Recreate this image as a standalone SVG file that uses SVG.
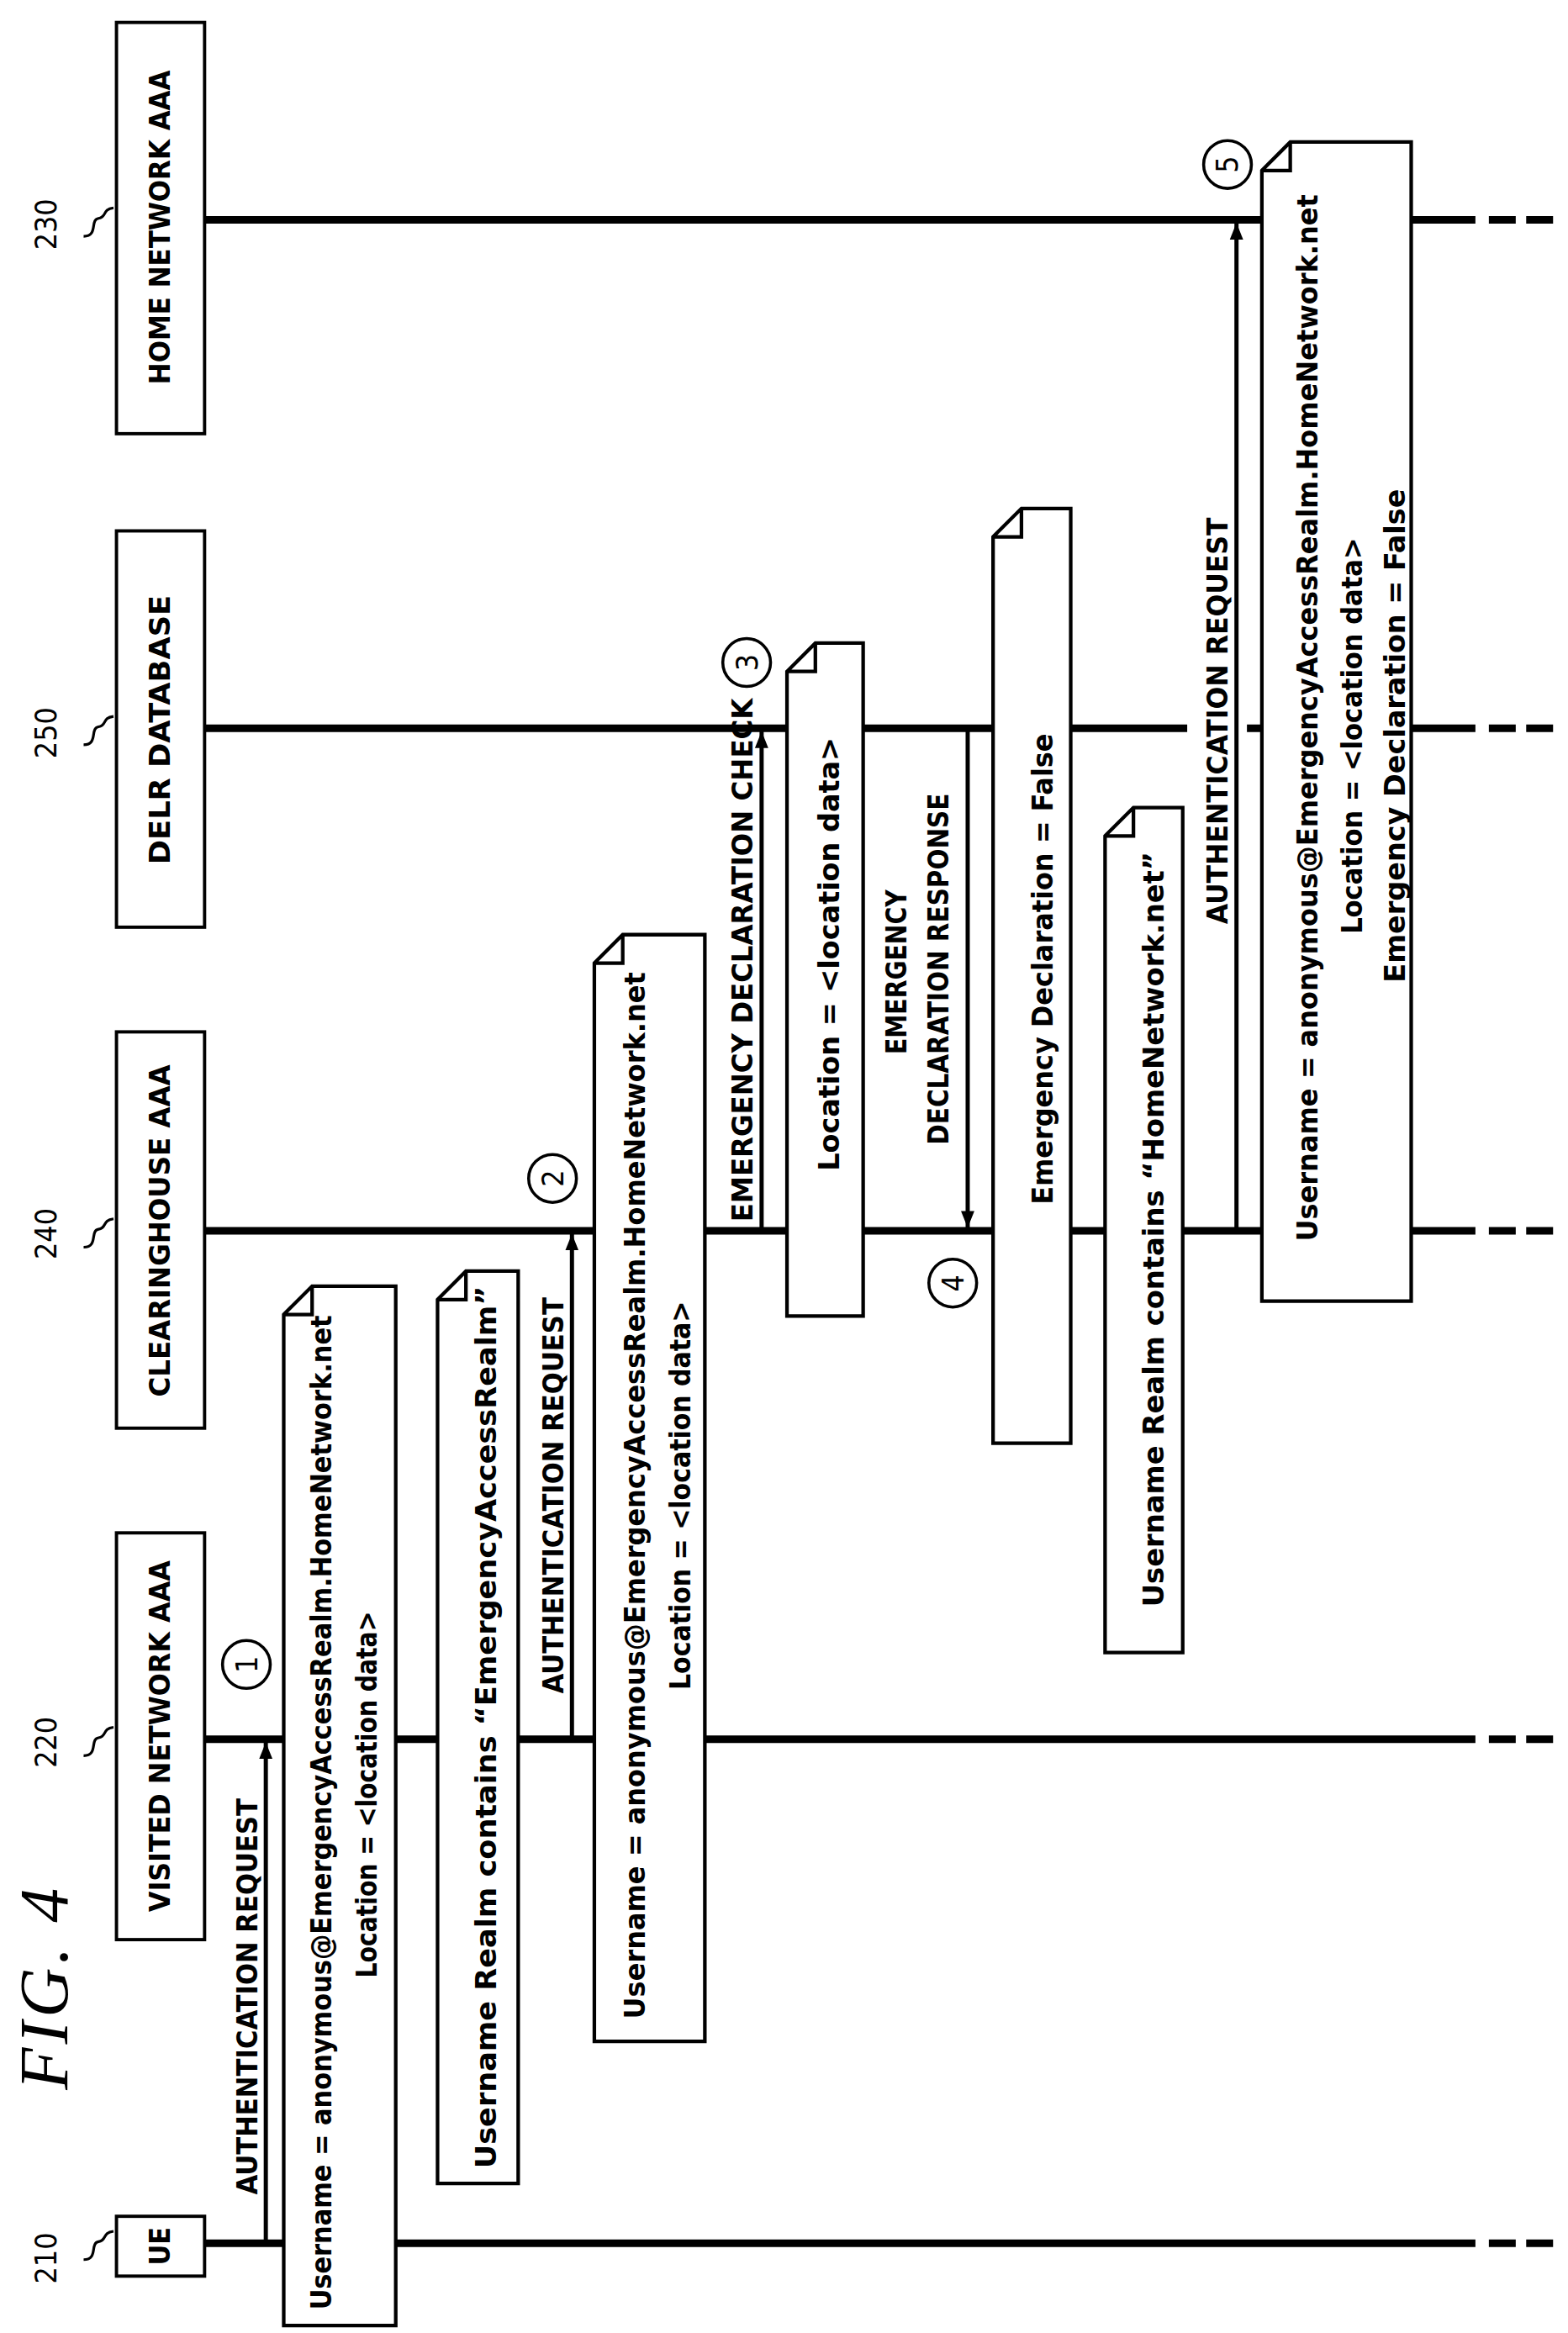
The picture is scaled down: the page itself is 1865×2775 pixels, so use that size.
<svg xmlns="http://www.w3.org/2000/svg" width="1865" height="2775" viewBox="0 0 1865 2775">
<defs>
<style>
text{font-family:"DejaVu Sans Condensed","DejaVu Sans","Liberation Sans",sans-serif;font-stretch:condensed;font-weight:bold;font-size:19px;fill:#000;text-anchor:middle}
.life{stroke:#000;stroke-width:5;fill:none}
.dash{stroke:#000;stroke-width:5;fill:none}
.box{fill:#fff;stroke:#000;stroke-width:2.2}
.note{fill:#fff;stroke:#000;stroke-width:2.4}
.arr{stroke:#000;stroke-width:2.8;fill:none}
.circ{fill:#fff;stroke:#000;stroke-width:2}
.sq{stroke:#000;stroke-width:1.8;fill:none}
.num{font-weight:normal;font-size:20px}
.fig{font-family:"Liberation Serif",serif;font-style:italic;font-weight:normal;font-size:46px}
</style>
<marker id="ah" viewBox="0 0 10 10" refX="10" refY="5" markerWidth="4" markerHeight="4" orient="auto" markerUnits="strokeWidth"><path d="M0,1 L10,5 L0,9 Z" fill="#000"/></marker>
</defs>
<rect width="1865" height="2775" fill="#fff"/>
<g transform="scale(1.7762,1.7788)">
<text class="fig" transform="translate(45,1330) rotate(-90)" textLength="135" lengthAdjust="spacing">FIG.  4</text>
<g id="connectors">
<path class="life" d="M137,147 H988 M137,487 H795 M835,487 H988 M137,823 H988 M137,1163 H988 M137,1500 H988"/>
<path class="dash" d="M997,147 H1015 M1022,147 H1040 M997,487 H1015 M1022,487 H1040 M997,823 H1015 M1022,823 H1040 M997,1163 H1015 M1022,1163 H1040 M997,1500 H1015 M1022,1500 H1040"/>
<path class="arr" d="M178,1498 V1165" marker-end="url(#ah)"/>
<path class="arr" d="M383,1161 V825" marker-end="url(#ah)"/>
<path class="arr" d="M510,821 V489" marker-end="url(#ah)"/>
<path class="arr" d="M648,489 V821" marker-end="url(#ah)"/>
<path class="arr" d="M828,821 V149" marker-end="url(#ah)"/>
<text transform="translate(172,1335) rotate(-90)" textLength="265" lengthAdjust="spacingAndGlyphs">AUTHENTICATION  REQUEST</text>
<text transform="translate(377,1000) rotate(-90)" textLength="265" lengthAdjust="spacingAndGlyphs">AUTHENTICATION  REQUEST</text>
<text transform="translate(504,642) rotate(-90)" textLength="350" lengthAdjust="spacingAndGlyphs">EMERGENCY  DECLARATION  CHECK</text>
<text transform="translate(607,650) rotate(-90)" textLength="110" lengthAdjust="spacingAndGlyphs">EMERGENCY</text>
<text transform="translate(635,648) rotate(-90)" textLength="235" lengthAdjust="spacingAndGlyphs">DECLARATION  RESPONSE</text>
<text transform="translate(822,482) rotate(-90)" textLength="272" lengthAdjust="spacingAndGlyphs">AUTHENTICATION  REQUEST</text>
</g>
<g id="n230"><rect class="box" x="78" y="15" width="59" height="275"/><text transform="translate(114,152) rotate(-90)" textLength="210" lengthAdjust="spacingAndGlyphs">HOME  NETWORK  AAA</text><text class="num" transform="translate(38,150) rotate(-90)">230</text><path class="sq" d="M56,158 C66,158 60,147 66,146 C72,145 68,140 76,139"/></g>
<g id="n250"><rect class="box" x="78" y="355" width="59" height="265"/><text transform="translate(114,488) rotate(-90)" textLength="180" lengthAdjust="spacingAndGlyphs">DELR  DATABASE</text><text class="num" transform="translate(38,490) rotate(-90)">250</text><path class="sq" d="M56,498 C66,498 60,487 66,486 C72,485 68,480 76,479"/></g>
<g id="n240"><rect class="box" x="78" y="690" width="59" height="265"/><text transform="translate(114,823) rotate(-90)" textLength="222" lengthAdjust="spacingAndGlyphs">CLEARINGHOUSE  AAA</text><text class="num" transform="translate(38,825) rotate(-90)">240</text><path class="sq" d="M56,834 C66,834 60,823 66,822 C72,821 68,816 76,815"/></g>
<g id="n220"><rect class="box" x="78" y="1025" width="59" height="272"/><text transform="translate(114,1161) rotate(-90)" textLength="235" lengthAdjust="spacingAndGlyphs">VISITED  NETWORK  AAA</text><text class="num" transform="translate(38,1165) rotate(-90)">220</text><path class="sq" d="M56,1174 C66,1174 60,1163 66,1162 C72,1161 68,1156 76,1155"/></g>
<g id="n210"><rect class="box" x="78" y="1482" width="59" height="40"/><text transform="translate(114,1502) rotate(-90)">UE</text><text class="num" transform="translate(38,1510) rotate(-90)">210</text><path class="sq" d="M56,1511 C66,1511 60,1500 66,1499 C72,1498 68,1493 76,1492"/></g>
<g id="step1"><circle class="circ" cx="165" cy="1113" r="16"/><text class="num" transform="translate(172,1113) rotate(-90)">1</text></g>
<g id="step2"><circle class="circ" cx="370" cy="788" r="16"/><text class="num" transform="translate(377,788) rotate(-90)">2</text></g>
<g id="step3"><circle class="circ" cx="500" cy="443" r="16"/><text class="num" transform="translate(507,443) rotate(-90)">3</text></g>
<g id="step4"><circle class="circ" cx="638" cy="858" r="16"/><text class="num" transform="translate(645,858) rotate(-90)">4</text></g>
<g id="step5"><circle class="circ" cx="822" cy="110" r="16"/><text class="num" transform="translate(829,110) rotate(-90)">5</text></g>
<g id="note1"><path class="note" d="M190,879 L209,860 H265 V1555 H190 Z M190,879 H209 V860"/>
<text transform="translate(222,1212) rotate(-90)" textLength="665" lengthAdjust="spacingAndGlyphs">Username = anonymous@EmergencyAccessRealm.HomeNetwork.net</text>
<text transform="translate(252,1200) rotate(-90)" textLength="245" lengthAdjust="spacingAndGlyphs">Location = &lt;location data&gt;</text></g>
<g id="note2"><path class="note" d="M293,869 L312,850 H347 V1460 H293 Z M293,869 H312 V850"/>
<text transform="translate(332,1155) rotate(-90)" textLength="590" lengthAdjust="spacingAndGlyphs">Username  Realm  contains  “EmergencyAccessRealm”</text></g>
<g id="note3"><path class="note" d="M398,644 L417,625 H472 V1365 H398 Z M398,644 H417 V625"/>
<text transform="translate(432,1000) rotate(-90)" textLength="700" lengthAdjust="spacingAndGlyphs">Username = anonymous@EmergencyAccessRealm.HomeNetwork.net</text>
<text transform="translate(462,1000) rotate(-90)" textLength="260" lengthAdjust="spacingAndGlyphs">Location = &lt;location data&gt;</text></g>
<g id="note4"><path class="note" d="M527,449 L546,430 H578 V880 H527 Z M527,449 H546 V430"/>
<text transform="translate(562,638) rotate(-90)" textLength="290" lengthAdjust="spacingAndGlyphs">Location  =  &lt;location  data&gt;</text></g>
<g id="note5"><path class="note" d="M665,359 L684,340 H717 V965 H665 Z M665,359 H684 V340"/>
<text transform="translate(705,648) rotate(-90)" textLength="315" lengthAdjust="spacingAndGlyphs">Emergency  Declaration = False</text></g>
<g id="note6"><path class="note" d="M740,559 L759,540 H792 V1105 H740 Z M740,559 H759 V540"/>
<text transform="translate(779,822) rotate(-90)" textLength="505" lengthAdjust="spacingAndGlyphs">Username  Realm  contains  “HomeNetwork.net”</text></g>
<g id="note7"><path class="note" d="M845,114 L864,95 H945 V870 H845 Z M845,114 H864 V95"/>
<text transform="translate(882,480) rotate(-90)" textLength="700" lengthAdjust="spacingAndGlyphs">Username = anonymous@EmergencyAccessRealm.HomeNetwork.net</text>
<text transform="translate(912,492) rotate(-90)" textLength="265" lengthAdjust="spacingAndGlyphs">Location = &lt;location data&gt;</text>
<text transform="translate(941,492) rotate(-90)" textLength="330" lengthAdjust="spacingAndGlyphs">Emergency  Declaration = False</text></g>
</g>
</svg>
